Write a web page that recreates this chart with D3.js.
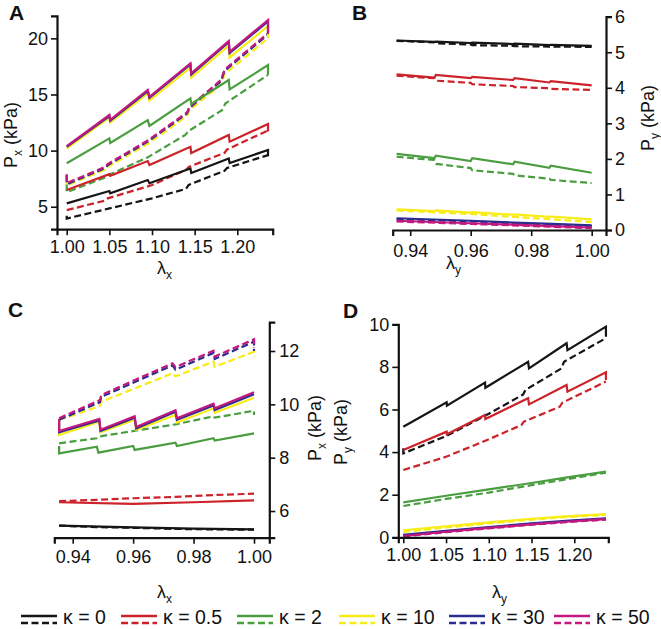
<!DOCTYPE html>
<html><head><meta charset="utf-8">
<script src="https://cdn.jsdelivr.net/npm/d3@7"></script>
<style>body{margin:0;background:#fff}svg{display:block}text{font-family:"Liberation Sans",Arial,sans-serif}</style>
</head><body><svg id="c" width="661" height="629"></svg>
<script>
// ---- data ----
const kappas = ["0","0.5","2","10","30","50"];

const xTicksA = [1.00,1.05,1.10,1.15,1.20], yTicksA = [5,10,15,20];
const xTicksB = [0.94,0.96,0.98,1.00], yTicksB = [0,1,2,3,4,5,6];
const xTicksC = [0.94,0.96,0.98,1.00], yTicksC = [6,8,10,12];
const xTicksD = [1.00,1.05,1.10,1.15,1.20], yTicksD = [0,2,4,6,8,10];

const A_solid = [
 [[1.00,5.3],[1.05,6.4],[1.051,6.2],[1.095,7.38],[1.097,7.1],[1.145,8.42],[1.146,8.0],[1.19,9.3],[1.191,8.9],[1.236,10.05],[1.236,9.5]],
 [[1.00,6.5],[1.05,7.9],[1.051,7.75],[1.095,9.07],[1.097,8.72],[1.145,10.34],[1.146,9.78],[1.19,11.39],[1.191,10.8],[1.236,12.37],[1.236,11.7]],
 [[1.00,8.87],[1.05,11.09],[1.051,10.68],[1.095,12.72],[1.097,12.2],[1.145,14.65],[1.146,14.15],[1.19,16.29],[1.191,15.45],[1.236,17.62],[1.236,16.75]],
 [[1.00,10.2],[1.05,12.95],[1.051,12.5],[1.095,15.1],[1.097,14.45],[1.145,17.4],[1.146,16.5],[1.19,19.35],[1.191,18.3],[1.236,21.1],[1.236,20.0]],
 [[1.00,10.33],[1.05,13.08],[1.051,12.66],[1.095,15.3],[1.097,14.7],[1.145,17.67],[1.146,16.78],[1.19,19.65],[1.191,18.7],[1.236,21.5],[1.236,20.4]],
 [[1.00,10.4],[1.05,13.17],[1.051,12.75],[1.095,15.4],[1.097,14.8],[1.145,17.77],[1.146,16.88],[1.19,19.76],[1.191,18.8],[1.236,21.63],[1.236,20.5]]
];
const A_dashed = [
 [[1.00,4.2],[1.00,3.95],[1.05,4.85],[1.10,5.75],[1.14,6.6],[1.143,6.95],[1.185,8.2],[1.188,8.45],[1.236,9.6]],
 [[1.00,4.7],[1.045,5.55],[1.048,5.75],[1.10,6.93],[1.14,8.3],[1.143,8.55],[1.185,9.8],[1.188,10.1],[1.236,11.8]],
 [[1.00,7.0],[1.00,6.3],[1.045,7.6],[1.048,7.8],[1.095,9.4],[1.139,11.4],[1.143,11.75],[1.182,13.6],[1.186,14.2],[1.236,16.75]],
 [[1.00,7.6],[1.00,6.9],[1.045,8.3],[1.048,8.55],[1.095,10.6],[1.141,13.1],[1.144,13.6],[1.181,15.9],[1.185,16.8],[1.236,20.0]],
 [[1.00,7.8],[1.00,7.0],[1.045,8.45],[1.048,8.7],[1.095,10.8],[1.141,13.3],[1.144,13.8],[1.181,16.2],[1.185,17.1],[1.236,20.35]],
 [[1.00,7.9],[1.00,7.1],[1.045,8.55],[1.048,8.8],[1.095,10.9],[1.141,13.4],[1.144,13.9],[1.181,16.3],[1.185,17.2],[1.236,20.45]]
];

const B_solid = [
 [[0.9355,5.33],[0.948,5.29],[0.9485,5.3],[0.96,5.26],[0.9605,5.27],[0.974,5.23],[0.9745,5.24],[0.986,5.2],[0.9865,5.21],[1.0,5.18]],
 [[0.9355,4.38],[0.948,4.29],[0.9485,4.36],[0.96,4.27],[0.9605,4.31],[0.974,4.22],[0.9745,4.27],[0.986,4.15],[0.9865,4.19],[1.0,4.07]],
 [[0.9355,2.14],[0.948,2.02],[0.9485,2.09],[0.96,1.94],[0.9605,2.02],[0.974,1.85],[0.9745,1.92],[0.986,1.75],[0.9865,1.81],[1.0,1.61]],
 [[0.9355,0.58],[0.948,0.53],[0.9485,0.55],[0.96,0.49],[0.9605,0.5],[0.974,0.43],[0.9745,0.44],[0.986,0.37],[0.9865,0.38],[1.0,0.30]],
 [[0.9355,0.33],[0.96,0.26],[0.974,0.21],[0.987,0.17],[1.0,0.13]],
 [[0.9355,0.26],[0.96,0.19],[0.974,0.15],[0.987,0.11],[1.0,0.07]]
];
const B_dashed = [
 [[0.9355,5.32],[0.948,5.28],[0.9485,5.25],[0.96,5.22],[0.9605,5.2],[0.974,5.18],[0.9745,5.17],[0.986,5.16],[1.0,5.15]],
 [[0.9355,4.34],[0.948,4.27],[0.9485,4.2],[0.96,4.14],[0.9605,4.1],[0.974,4.05],[0.9745,4.02],[0.986,3.99],[0.9865,3.97],[1.0,3.94]],
 [[0.9355,2.06],[0.948,1.97],[0.9485,1.86],[0.96,1.74],[0.9605,1.68],[0.974,1.58],[0.9745,1.54],[0.986,1.44],[0.9865,1.41],[1.0,1.32]],
 [[0.9355,0.55],[0.96,0.45],[0.974,0.37],[0.987,0.3],[1.0,0.22]],
 [[0.9355,0.31],[0.96,0.24],[0.974,0.19],[0.987,0.15],[1.0,0.11]],
 [[0.9355,0.24],[0.96,0.17],[0.974,0.13],[0.987,0.09],[1.0,0.05]]
];

const C_solid = [
 [[0.9355,5.45],[0.96,5.39],[0.98,5.34],[1.0,5.31]],
 [[0.9355,6.33],[0.96,6.27],[0.98,6.33],[1.0,6.4]],
 [[0.9355,8.44],[0.9355,8.16],[0.948,8.41],[0.9485,8.19],[0.96,8.44],[0.9605,8.29],[0.974,8.56],[0.9745,8.44],[0.9866,8.73],[0.987,8.64],[1.0,8.91]],
 [[0.9355,9.3],[0.9355,8.85],[0.9488,9.35],[0.9492,8.95],[0.9605,9.42],[0.961,9.05],[0.974,9.6],[0.9745,9.32],[0.9866,9.85],[0.987,9.68],[1.0,10.25]],
 [[0.9355,9.4],[0.9355,8.95],[0.9488,9.4],[0.9492,9.0],[0.9605,9.5],[0.961,9.1],[0.974,9.72],[0.9745,9.42],[0.9866,9.96],[0.987,9.79],[1.0,10.38]],
 [[0.9355,9.45],[0.9355,9.0],[0.9488,9.45],[0.9492,9.05],[0.9605,9.55],[0.961,9.15],[0.974,9.78],[0.9745,9.48],[0.9866,10.02],[0.987,9.85],[1.0,10.45]]
];
const C_dashed = [
 [[0.9355,5.45],[0.948,5.4],[0.96,5.37],[0.974,5.33],[0.987,5.31],[1.0,5.3]],
 [[0.9355,6.37],[0.948,6.42],[0.96,6.48],[0.974,6.53],[0.987,6.6],[1.0,6.65]],
 [[0.9355,8.54],[0.948,8.73],[0.949,8.8],[0.974,9.25],[0.9866,9.55],[0.987,9.5],[1.0,9.76],[1.0,9.6]],
 [[0.9355,9.41],[0.949,9.94],[0.9495,10.1],[0.973,11.16],[0.974,11.05],[0.9866,11.6],[0.987,11.41],[1.0,11.97],[1.0,11.79]],
 [[0.9355,9.42],[0.949,10.08],[0.9495,10.28],[0.973,11.46],[0.974,11.3],[0.9866,11.93],[0.987,11.7],[1.0,12.35],[1.0,12.0]],
 [[0.9355,9.48],[0.949,10.16],[0.9495,10.35],[0.973,11.54],[0.974,11.4],[0.9866,12.01],[0.987,11.79],[1.0,12.44],[1.0,12.1]]
];

const D_solid = [
 [[1.00,5.19],[1.0507,6.34],[1.051,6.18],[1.0956,7.26],[1.096,7.02],[1.146,8.24],[1.147,7.93],[1.191,9.11],[1.192,8.79],[1.237,9.89],[1.237,9.42]],
 [[1.00,4.1],[1.0507,4.96],[1.051,4.84],[1.0956,5.74],[1.096,5.55],[1.146,6.53],[1.147,6.24],[1.191,7.15],[1.192,6.84],[1.237,7.75],[1.237,7.38]],
 [[1.00,1.64],[1.05,1.95],[1.10,2.25],[1.15,2.55],[1.19,2.8],[1.237,3.08]],
 [[1.0,0.33],[1.05,0.52],[1.10,0.7],[1.15,0.87],[1.19,0.98],[1.237,1.09]],
 [[1.0,0.11],[1.05,0.3],[1.10,0.48],[1.15,0.65],[1.19,0.77],[1.237,0.89]],
 [[1.0,0.06],[1.05,0.26],[1.10,0.44],[1.15,0.61],[1.19,0.73],[1.237,0.85]]
];
const D_dashed = [
 [[1.00,4.18],[1.00,3.94],[1.05,4.75],[1.10,5.8],[1.14,6.7],[1.143,6.92],[1.185,7.93],[1.188,8.24],[1.237,9.35]],
 [[1.00,3.16],[1.05,3.78],[1.10,4.6],[1.138,5.27],[1.141,5.43],[1.183,6.13],[1.186,6.32],[1.237,7.31]],
 [[1.00,1.47],[1.05,1.8],[1.10,2.1],[1.15,2.45],[1.19,2.72],[1.237,3.03]],
 [[1.0,0.25],[1.05,0.46],[1.10,0.65],[1.15,0.83],[1.19,0.95],[1.237,1.05]],
 [[1.0,0.09],[1.05,0.28],[1.10,0.46],[1.15,0.63],[1.19,0.75],[1.237,0.87]],
 [[1.0,0.04],[1.05,0.24],[1.10,0.42],[1.15,0.59],[1.19,0.71],[1.237,0.83]]
];

// ---- style ----
const colors = ["#151515","#cc2229","#4a9e40","#f8ec14","#2b2d8e","#c2187f"];
const svg = d3.select("#c");
const FONT = 18;

function title(g, main, s, rest, x, y, rot, anchor){
  const t = g.append("text").attr("transform",`translate(${x},${y}) rotate(${rot})`)
    .attr("text-anchor",anchor).attr("font-size",FONT).attr("fill","#111");
  t.append("tspan").text(main);
  t.append("tspan").attr("font-size",12).attr("dy",5).text(s);
  if(rest) t.append("tspan").attr("dy",-5).text(rest);
  return t;
}

function panel(cfg){
  const g = svg.append("g");
  const x = d3.scaleLinear().domain(cfg.xd).range(cfg.xr);
  const y = d3.scaleLinear().domain(cfg.yd).range(cfg.yr);
  const line = d3.line().x(d=>x(d[0])).y(d=>y(d[1]));
  [cfg.dashed, cfg.solid].forEach((set,si)=>{
    set.forEach((pts,i)=>{
      g.append("path").attr("d",line(pts)).attr("fill","none")
        .attr("stroke",colors[i]).attr("stroke-width",2.2)
        .attr("stroke-linejoin","miter").attr("stroke-miterlimit",3)
        .attr("stroke-dasharray", si===0 ? "7,3.5" : null);
    });
  });
  const xa = d3.axisBottom(x).tickValues(cfg.xt).tickFormat(d3.format(".2f")).tickSizeOuter(0).tickSize(6).tickPadding(cfg.xpad);
  const ya = (cfg.yside==="left"?d3.axisLeft(y):d3.axisRight(y)).tickValues(cfg.yt).tickFormat(d3.format("d")).tickSizeOuter(0).tickSize(6).tickPadding(cfg.ypad);
  const gx = g.append("g").attr("transform",`translate(0,${cfg.yr[0]})`).call(xa);
  const gy = g.append("g").attr("transform",`translate(${cfg.yside==="left"?cfg.xr[0]:cfg.xr[1]},0)`).call(ya);
  [gx,gy].forEach(a=>{
    a.select(".domain").attr("stroke","#111").attr("stroke-width",2.2);
    a.selectAll(".tick line").attr("stroke","#111").attr("stroke-width",1.6);
    a.selectAll(".tick text").attr("font-size",FONT).attr("fill","#111").attr("font-family","Liberation Sans, Arial, sans-serif");
  });
  title(g, cfg.xtitle[0], cfg.xtitle[1], null, cfg.xtitle[2], cfg.xtitle[3], 0, "start");
  title(g, cfg.ytitle[0], cfg.ytitle[1], " (kPa)", cfg.ytitle[2], cfg.ytitle[3], -90, "middle");
  g.append("text").attr("x",cfg.lab[1]).attr("y",cfg.lab[2]).attr("font-size",21).attr("font-weight","bold").attr("fill","#111").text(cfg.lab[0]);
}

panel({xd:[0.9886,1.2415], xr:[57,272.7], yd:[3,22], yr:[229.2,15.9], yside:"left",
  xt:xTicksA, yt:yTicksA, xpad:5, ypad:3, solid:A_solid, dashed:A_dashed,
  xtitle:["λ","x",157,274], ytitle:["P","x",17,135], lab:["A",9,20]});
panel({xd:[0.93421,1.00473], xr:[392.7,606], yd:[0,6], yr:[230,16.7], yside:"right",
  xt:xTicksB, yt:yTicksB, xpad:8, ypad:3, solid:B_solid, dashed:B_dashed,
  xtitle:["λ","y",446,269], ytitle:["P","y",654,118], lab:["B",352,20]});
panel({xd:[0.93391,1.00506], xr:[54.3,269.3], yd:[5.0,13.08], yr:[537.7,322.2], yside:"right",
  xt:xTicksC, yt:yTicksC, xpad:7, ypad:4, solid:C_solid, dashed:C_dashed,
  xtitle:["λ","x",157,598], ytitle:["P","x",321,428], lab:["C",8,317]});
panel({xd:[0.99415,1.23977], xr:[398.3,608.3], yd:[0,10], yr:[537.3,324.3], yside:"left",
  xt:xTicksD, yt:yTicksD, xpad:5, ypad:3, solid:D_solid, dashed:D_dashed,
  xtitle:["λ","y",492,598], ytitle:["P","y",347,432], lab:["D",343,318]});

// legend
const lx = [21,121,237,339,449,554];
const lg = svg.append("g");
kappas.forEach((k,i)=>{
  lg.append("line").attr("x1",lx[i]).attr("x2",lx[i]+36).attr("y1",616).attr("y2",616).attr("stroke",colors[i]).attr("stroke-width",2.4);
  lg.append("line").attr("x1",lx[i]).attr("x2",lx[i]+36).attr("y1",623).attr("y2",623).attr("stroke",colors[i]).attr("stroke-width",2.4).attr("stroke-dasharray","7,3.5");
  lg.append("text").attr("x",lx[i]+42).attr("y",624).attr("font-size",19.5).attr("fill","#111").text("κ = "+k);
});
</script></body></html>
